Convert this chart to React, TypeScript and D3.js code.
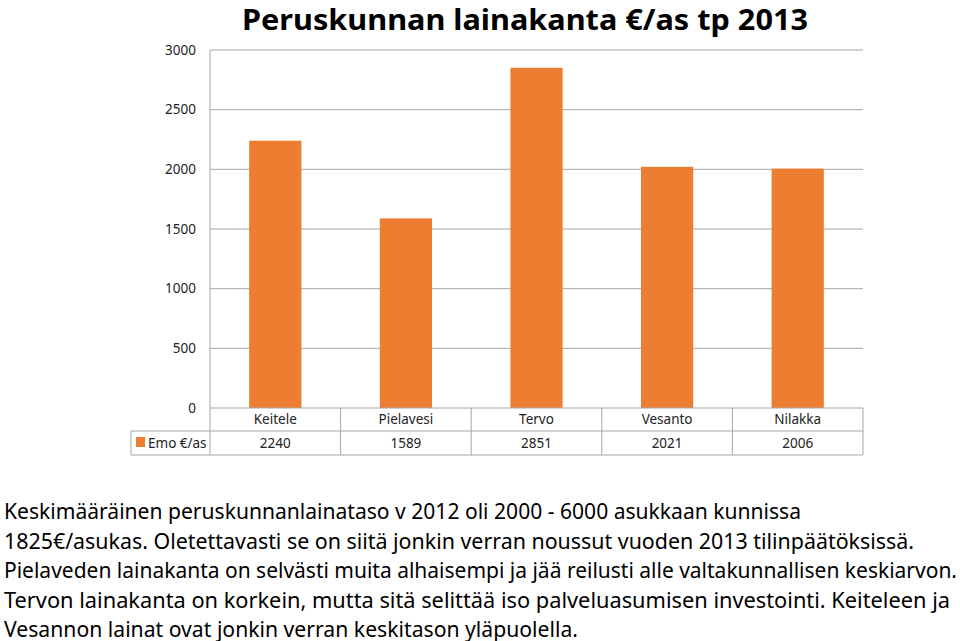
import React from "react";
import * as d3 from "d3";

const categories = ["Keitele", "Pielavesi", "Tervo", "Vesanto", "Nilakka"];
const values = [2240, 1589, 2851, 2021, 2006];
const yTicks = [0, 500, 1000, 1500, 2000, 2500, 3000];
const seriesName = "Emo €/as";
const title = "Peruskunnan lainakanta €/as tp 2013";
const bodyLines = [
  "Keskimääräinen peruskunnanlainataso v 2012 oli 2000 - 6000 asukkaan kunnissa",
  "1825€/asukas. Oletettavasti se on siitä jonkin verran noussut vuoden 2013 tilinpäätöksissä.",
  "Pielaveden lainakanta on selvästi muita alhaisempi ja jää reilusti alle valtakunnallisen keskiarvon.",
  "Tervon lainakanta on korkein, mutta sitä selittää iso palveluasumisen investointi. Keiteleen ja",
  "Vesannon lainat ovat jonkin verran keskitason yläpuolella.",
];
const bodyWidths = [797, 910, 953, 946, 574];

const W = 960;
const H = 641;
const left = 210;
const right = 863;
const top = 50;
const bottom = 408;
const row1 = 431;
const row2 = 455;
const legendLeft = 131;
const ORANGE = "#ED7D31";
const GRID = "#A6A6A6";
const FONT = "'Noto Sans', 'Open Sans', sans-serif";

export default function App() {
  const y = d3.scaleLinear().domain([0, 3000]).range([bottom, top]);
  const x = d3.scaleBand<string>().domain(categories).range([left, right]).paddingInner(0.6).paddingOuter(0.3);
  const col = d3.scaleBand<string>().domain(categories).range([left, right]).padding(0);

  return (
    <svg width={W} height={H} style={{ position: "absolute", left: 0, top: 0, background: "#fff" }} fontFamily={FONT}>
      <rect width={W} height={H} fill="#fff" />
      <text x={525} y={30} textAnchor="middle" fontSize={29} fontWeight="bold" fill="#000" textLength={566} lengthAdjust="spacingAndGlyphs">
        {title}
      </text>
      {yTicks.map((t) => (
        <g key={t}>
          {t > 0 && <line x1={left} x2={right} y1={y(t)} y2={y(t)} stroke={GRID} strokeWidth={1} />}
          <text x={196} y={y(t)} dy="0.35em" textAnchor="end" fontSize={13.5} fill="#222">
            {t}
          </text>
        </g>
      ))}
      {categories.map((c, i) => (
        <rect key={c} x={x(c)} y={y(values[i])} width={x.bandwidth()} height={y(0) - y(values[i])} fill={ORANGE} />
      ))}
      <line x1={left} x2={left} y1={top} y2={row2} stroke={GRID} />
      <line x1={left} x2={right} y1={bottom} y2={bottom} stroke={GRID} />
      <line x1={legendLeft} x2={right} y1={row1} y2={row1} stroke={GRID} />
      <line x1={legendLeft} x2={right} y1={row2} y2={row2} stroke={GRID} />
      <line x1={legendLeft} x2={legendLeft} y1={row1} y2={row2} stroke={GRID} />
      {categories.map((c) => (
        <line key={c} x1={(col(c) as number) + col.bandwidth()} x2={(col(c) as number) + col.bandwidth()} y1={bottom} y2={row2} stroke={GRID} />
      ))}
      {categories.map((c, i) => (
        <g key={c}>
          <text x={(col(c) as number) + col.bandwidth() / 2} y={(bottom + row1) / 2} dy="0.35em" textAnchor="middle" fontSize={13.5} fill="#222">
            {c}
          </text>
          <text x={(col(c) as number) + col.bandwidth() / 2} y={(row1 + row2) / 2} dy="0.35em" textAnchor="middle" fontSize={13.5} fill="#222">
            {values[i]}
          </text>
        </g>
      ))}
      <rect x={136} y={437} width={9} height={10} fill={ORANGE} />
      <text x={148} y={(row1 + row2) / 2} dy="0.35em" fontSize={13.5} fill="#222">
        {seriesName}
      </text>
      {bodyLines.map((l, i) => (
        <text key={i} x={4} y={519 + i * 29.5} fontSize={21.5} fill="#000" textLength={bodyWidths[i]} lengthAdjust="spacingAndGlyphs">
          {l}
        </text>
      ))}
    </svg>
  );
}
